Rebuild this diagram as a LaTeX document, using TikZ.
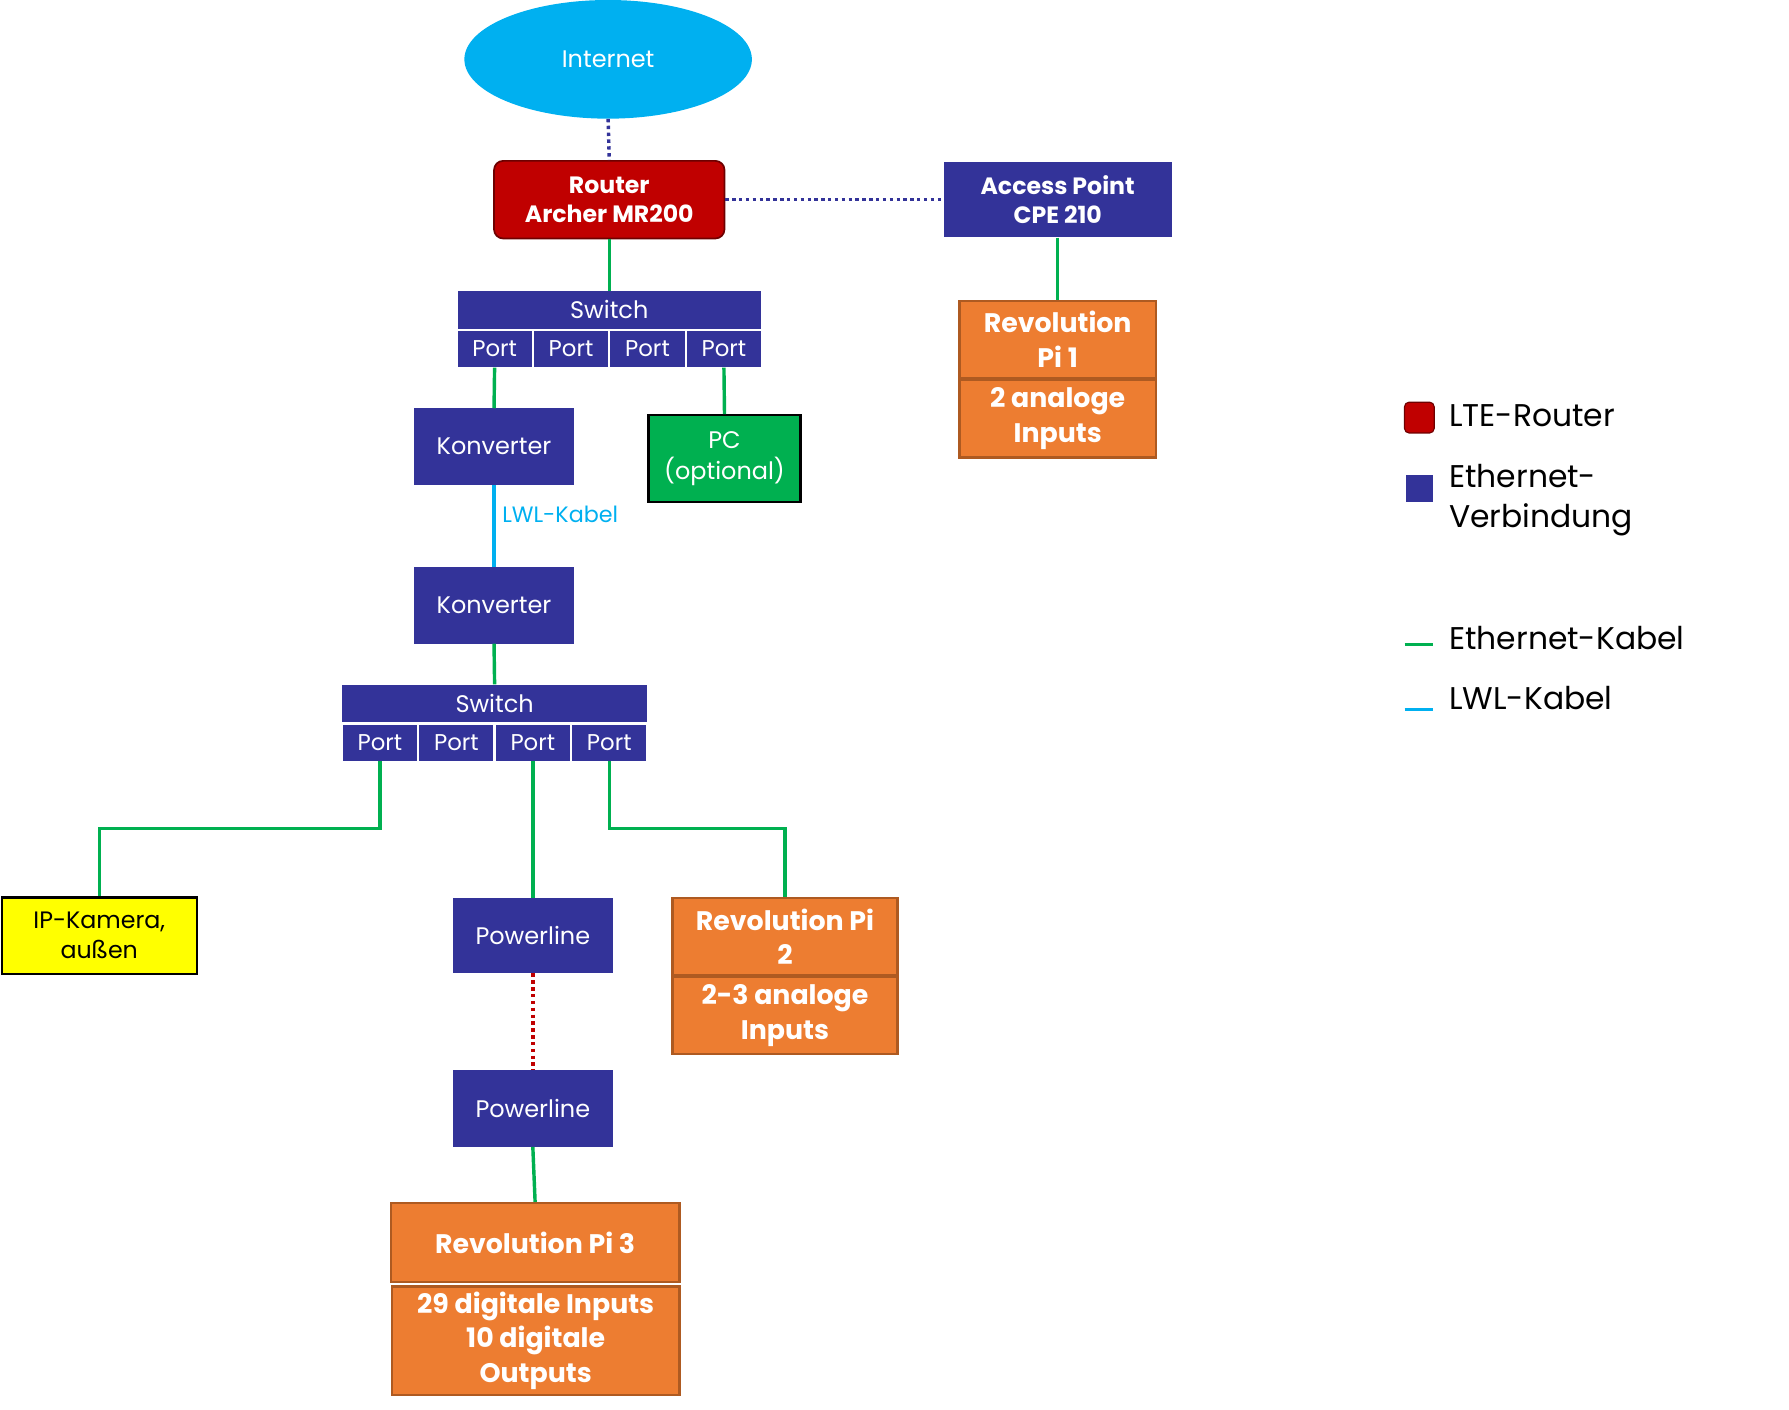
\documentclass[tikz,border=0pt]{standalone}
\usepackage{fontspec}
\setmainfont{Poppins}
\usetikzlibrary{shapes.geometric,calc}
\definecolor{navy}{RGB}{51,51,153}
\definecolor{cyanc}{RGB}{0,176,240}
\definecolor{greenc}{RGB}{0,176,80}
\definecolor{redc}{RGB}{192,0,0}
\definecolor{redb}{RGB}{110,0,0}
\definecolor{orangec}{RGB}{237,125,49}
\definecolor{orangeb}{RGB}{174,90,33}
\definecolor{yellowc}{RGB}{255,255,0}
\tikzset{
  reg/.style={font=\fontsize{21}{27}\selectfont},
  bld/.style={font=\bfseries\fontsize{23.5}{30.5}\selectfont},
  hdr/.style={font=\bfseries\fontsize{20.7}{26}\selectfont},
  nbox/.style={rectangle, fill=navy, text=white, inner sep=0pt, align=center, reg},
  portbox/.style={nbox, minimum width=65, minimum height=32, font=\fontsize{20}{24}\selectfont},
  obox/.style={rectangle, fill=orangec, draw=orangeb, line width=2pt, text=white, inner sep=0pt, align=center, bld},
  eth/.style={draw=greenc, line width=3pt},
  lwl/.style={draw=cyanc, line width=3pt},
  wifi/.style={draw=navy, line width=3pt, dash pattern=on 3pt off 3pt},
  plc/.style={draw=redc, line width=3pt, dash pattern=on 3pt off 3pt},
  legtxt/.style={anchor=west, text=black, font=\fontsize{27.5}{35}\selectfont, align=left, inner sep=0pt}
}
\begin{document}
\begin{tikzpicture}[x=1pt,y=-1pt]
\useasboundingbox (0,0) rectangle (1568,1235);
% Internet
\node[ellipse, fill=cyanc, text=white, minimum width=252, minimum height=104, inner sep=0pt, reg] (inet) at (533,52) {Internet};
% Router
\node[rectangle, rounded corners=8pt, fill=redc, draw=redb, line width=1.5pt, text=white, minimum width=202, minimum height=68, inner sep=0pt, align=center, hdr] (router) at (534,175) {Router\\Archer MR200};
% Access point
\node[nbox, minimum width=200, minimum height=66, hdr] (ap) at (927,175) {Access Point\\CPE 210};
% Switch 1
\node[nbox, minimum width=266, minimum height=33] (sw1) at (534,271.5) {Switch};
\node[portbox] (s1p1) at (433.5,306) {Port};
\node[portbox] (s1p2) at (500.5,306) {Port};
\node[portbox] (s1p3) at (567.5,306) {Port};
\node[portbox] (s1p4) at (634.5,306) {Port};
% Konverter
\node[nbox, minimum width=140, minimum height=67] (k1) at (433,391.5) {Konverter};
\node[nbox, minimum width=140, minimum height=67] (k2) at (433,530.5) {Konverter};
% PC
\node[rectangle, fill=greenc, draw=black, line width=2pt, text=white, minimum width=133, minimum height=76, inner sep=0pt, align=center, reg] (pc) at (635,402) {PC\\(optional)};
% Switch 2
\node[nbox, minimum width=267, minimum height=33] (sw2) at (433.5,616.5) {Switch};
\node[portbox] (s2p1) at (333,651) {Port};
\node[portbox] (s2p2) at (400,651) {Port};
\node[portbox] (s2p3) at (467,651) {Port};
\node[portbox] (s2p4) at (534,651) {Port};
% IP camera
\node[rectangle, fill=yellowc, draw=black, line width=2pt, text=black, minimum width=171, minimum height=67, inner sep=0pt, align=center, font=\fontsize{20.8}{26}\selectfont] (cam) at (87,820) {IP-Kamera,\\außen};
% Powerline
\node[nbox, minimum width=140, minimum height=66] (pl1) at (467,820) {Powerline};
\node[nbox, minimum width=140, minimum height=67] (pl2) at (467,971.5) {Powerline};
% Revolution Pi 1
\node[obox, minimum width=172, minimum height=68] (rp1) at (927,297.5) {Revolution\\Pi 1};
\node[obox, minimum width=172, minimum height=68] (rp1b) at (927,367) {2 analoge\\Inputs};
% Revolution Pi 2
\node[obox, minimum width=197, minimum height=68] (rp2) at (688,821) {Revolution Pi\\2};
\node[obox, minimum width=197, minimum height=68] (rp2b) at (688,890) {2-3 analoge\\Inputs};
% Revolution Pi 3
\node[obox, minimum width=253, minimum height=69] (rp3) at (469,1089) {Revolution Pi 3};
\node[obox, minimum width=252, minimum height=95] (rp3b) at (469.5,1175) {29 digitale Inputs\\10 digitale\\Outputs};
% connectors
\draw[wifi] (inet.south) -- (router.north);
\draw[wifi] (router.east) -- (ap.west);
\draw[eth] (router.south) -- (sw1.north);
\draw[eth] (ap.south) -- (rp1.north);
\draw[eth] (s1p1.south) -- (k1.north);
\draw[eth] (s1p4.south) -- (pc.north);
\draw[lwl] (k1.south) -- (k2.north);
\node[anchor=west, text=cyanc, font=\fontsize{19.5}{24}\selectfont, inner sep=0pt] (lwllbl) at (440,451) {LWL-Kabel};
\draw[eth] (k2.south) -- (sw2.north);
\draw[eth] (s2p1.south) -- ++(0,59) -| (cam.north);
\draw[eth] (s2p3.south) -- (pl1.north);
\draw[eth] (s2p4.south) -- ++(0,59) -| (rp2.north);
\draw[plc] (pl1.south) -- (pl2.north);
\draw[eth] (pl2.south) -- (rp3.north);
% legend
\node[rectangle, rounded corners=4pt, fill=redc, draw=redb, line width=1pt, minimum width=26, minimum height=27, inner sep=0pt] (lgr) at (1244,366) {};
\node[legtxt] (lgrt) at (1270,364) {LTE-Router};
\node[rectangle, fill=navy, minimum width=24, minimum height=24, inner sep=0pt] (lgn) at (1244,428) {};
\node[legtxt] (lgnt) at (1270,438) {Ethernet-\\Verbindung};
\coordinate (lge1) at (1231,565);
\coordinate (lge2) at (1256,565);
\draw[eth] (lge1) -- (lge2);
\node[legtxt] (lget) at (1270,559) {Ethernet-Kabel};
\coordinate (lgl1) at (1231,622);
\coordinate (lgl2) at (1256,622);
\draw[lwl] (lgl1) -- (lgl2);
\node[legtxt] (lglt) at (1270,612) {LWL-Kabel};
\end{tikzpicture}
\end{document}
